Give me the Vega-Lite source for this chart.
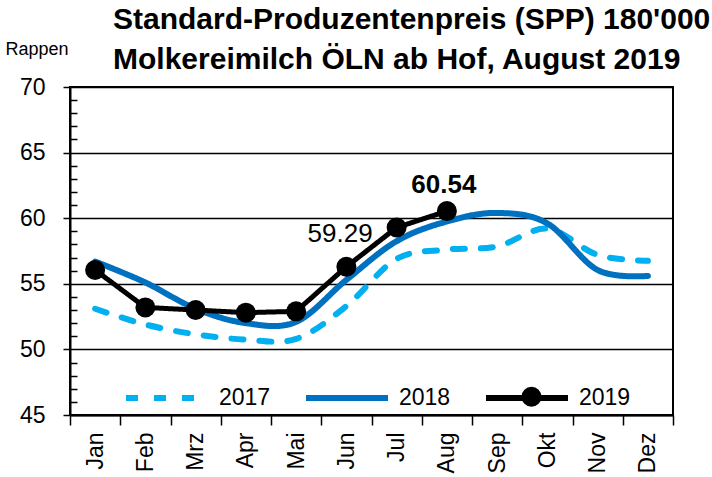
{
  "$schema": "https://vega.github.io/schema/vega-lite/v6.json",
  "width": 603,
  "height": 328,
  "autosize": {"type": "none"},
  "padding": {"left": 70, "top": 87, "right": 39, "bottom": 62},
  "background": "white",
  "config": {
    "view": {"stroke": "black", "strokeWidth": 2},
    "font": "Liberation Sans",
    "legend": {
      "orient": "none",
      "legendX": 53,
      "legendY": 267,
      "direction": "horizontal",
      "columns": 3,
      "symbolType": "stroke",
      "symbolSize": 6724,
      "symbolStrokeWidth": 6,
      "labelFont": "Liberation Sans",
      "labelFontSize": 23,
      "labelColor": "black",
      "labelOffset": 8,
      "columnPadding": 23,
      "padding": 0
    }
  },
  "title": {
    "text": ["Standard-Produzentenpreis (SPP) 180'000", "Molkereimilch ÖLN ab Hof, August 2019"],
    "anchor": "start",
    "frame": "group",
    "dx": 43,
    "dy": 47,
    "offset": 12,
    "font": "Liberation Sans",
    "fontSize": 30,
    "fontWeight": "bold",
    "color": "black",
    "lineHeight": 40
  },
  "datasets": {
    "prices": [
      {"month": "Jan", "year": "2017", "value": 53.1},
      {"month": "Feb", "year": "2017", "value": 51.9},
      {"month": "Mrz", "year": "2017", "value": 51.15},
      {"month": "Apr", "year": "2017", "value": 50.75},
      {"month": "Mai", "year": "2017", "value": 50.8},
      {"month": "Jun", "year": "2017", "value": 53.3},
      {"month": "Jul", "year": "2017", "value": 56.9},
      {"month": "Aug", "year": "2017", "value": 57.6},
      {"month": "Sep", "year": "2017", "value": 57.85},
      {"month": "Okt", "year": "2017", "value": 59.2},
      {"month": "Nov", "year": "2017", "value": 57.2},
      {"month": "Dez", "year": "2017", "value": 56.75},
      {"month": "Jan", "year": "2018", "value": 56.7},
      {"month": "Feb", "year": "2018", "value": 55.1},
      {"month": "Mrz", "year": "2018", "value": 53.1},
      {"month": "Apr", "year": "2018", "value": 52.0},
      {"month": "Mai", "year": "2018", "value": 52.1},
      {"month": "Jun", "year": "2018", "value": 55.3},
      {"month": "Jul", "year": "2018", "value": 58.25},
      {"month": "Aug", "year": "2018", "value": 59.75},
      {"month": "Sep", "year": "2018", "value": 60.4},
      {"month": "Okt", "year": "2018", "value": 59.6},
      {"month": "Nov", "year": "2018", "value": 56.05},
      {"month": "Dez", "year": "2018", "value": 55.6},
      {"month": "Jan", "year": "2019", "value": 56.05},
      {"month": "Feb", "year": "2019", "value": 53.2},
      {"month": "Mrz", "year": "2019", "value": 53.0},
      {"month": "Apr", "year": "2019", "value": 52.8},
      {"month": "Mai", "year": "2019", "value": 52.9},
      {"month": "Jun", "year": "2019", "value": 56.3},
      {"month": "Jul", "year": "2019", "value": 59.29},
      {"month": "Aug", "year": "2019", "value": 60.54}
    ]
  },
  "data": {"name": "prices"},
  "encoding": {
    "x": {
      "field": "month",
      "type": "ordinal",
      "bandPosition": 0.5,
      "sort": ["Jan", "Feb", "Mrz", "Apr", "Mai", "Jun", "Jul", "Aug", "Sep", "Okt", "Nov", "Dez"],
      "scale": {"type": "band", "domain": ["Jan", "Feb", "Mrz", "Apr", "Mai", "Jun", "Jul", "Aug", "Sep", "Okt", "Nov", "Dez"], "paddingInner": 0, "paddingOuter": 0},
      "axis": {
        "title": null,
        "tickBand": "extent",
        "tickSize": 10,
        "tickColor": "black",
        "tickWidth": 1.5,
        "domainColor": "black",
        "domainWidth": 2,
        "labelAngle": -90,
        "labelAlign": "right",
        "labelBaseline": "middle",
        "labelFont": "Liberation Sans",
        "labelFontSize": 23,
        "labelColor": "black",
        "labelPadding": 7,
        "grid": false
      }
    }
  },
  "layer": [
    {
      "transform": [{"filter": "datum.year !== '2019'"}],
      "mark": {"type": "line", "interpolate": "cardinal", "strokeWidth": 6, "strokeCap": "round"},
      "encoding": {
        "y": {
          "field": "value",
          "type": "quantitative",
          "scale": {"domain": [45, 70], "nice": false, "zero": false},
          "axis": {
            "orient": "left",
            "title": "Rappen",
            "titleAngle": 0,
            "titleAlign": "left",
            "titleBaseline": "middle",
            "titleX": -65,
            "titleY": -38,
            "titleFont": "Liberation Sans",
            "titleFontSize": 18,
            "titleFontWeight": "normal",
            "titleColor": "black",
            "values": [45, 50, 55, 60, 65, 70],
            "tickSize": 7,
            "tickColor": "black",
            "tickWidth": 1.5,
            "labelFont": "Liberation Sans",
            "labelFontSize": 23,
            "labelPadding": 18,
            "labelColor": "black",
            "domainColor": "black",
            "domainWidth": 2,
            "grid": true,
            "gridColor": "black",
            "gridWidth": 1.5
          }
        },
        "color": {
          "field": "year",
          "type": "nominal",
          "title": null,
          "scale": {"domain": ["2017", "2018", "2019"], "range": ["#00B0F0", "#0070C0", "#000000"]}
        },
        "strokeDash": {
          "field": "year",
          "type": "nominal",
          "title": null,
          "scale": {"domain": ["2017", "2018", "2019"], "range": [[12, 16], [1, 0], [1, 0]]}
        }
      }
    },
    {
      "transform": [{"filter": "datum.year === '2019'"}],
      "mark": {"type": "line", "strokeWidth": 5, "strokeCap": "round"},
      "encoding": {
        "y": {
          "field": "value",
          "type": "quantitative",
          "scale": {"domain": [45, 70], "nice": false, "zero": false},
          "axis": {
            "orient": "left",
            "title": null,
            "values": [46, 47, 48, 49, 51, 52, 53, 54, 56, 57, 58, 59, 61, 62, 63, 64, 66, 67, 68, 69],
            "labels": false,
            "domain": false,
            "grid": false,
            "tickSize": -7,
            "tickColor": "black",
            "tickWidth": 1.5
          }
        },
        "color": {"field": "year", "type": "nominal", "title": null},
        "strokeDash": {"field": "year", "type": "nominal", "title": null}
      }
    },
    {
      "transform": [{"filter": "datum.year === '2019'"}],
      "mark": {"type": "point", "size": 400, "filled": true, "color": "black", "opacity": 1},
      "encoding": {
        "y": {"field": "value", "type": "quantitative", "scale": {"domain": [45, 70], "nice": false, "zero": false}, "axis": null},
        "shape": {
          "datum": "2019",
          "scale": {"range": ["circle"]},
          "legend": {
            "orient": "none",
            "legendX": 450,
            "legendY": 298,
            "title": null,
            "symbolType": "circle",
            "symbolSize": 400,
            "symbolFillColor": "black",
            "symbolStrokeColor": "black",
            "symbolStrokeWidth": 0,
            "labelExpr": "''",
            "labelOffset": 0
          }
        }
      }
    },
    {
      "transform": [{"filter": "datum.year === '2019' && datum.month === 'Jul'"}],
      "mark": {"type": "text", "align": "right", "baseline": "middle", "dx": -24, "dy": 6, "font": "Liberation Sans", "fontSize": 26, "color": "black"},
      "encoding": {
        "y": {"field": "value", "type": "quantitative", "scale": {"domain": [45, 70], "nice": false, "zero": false}, "axis": null},
        "text": {"field": "value", "type": "quantitative", "format": ".2f"}
      }
    },
    {
      "transform": [{"filter": "datum.year === '2019' && datum.month === 'Aug'"}],
      "mark": {"type": "text", "align": "center", "baseline": "bottom", "dy": -13, "dx": -3, "font": "Liberation Sans", "fontSize": 26, "fontWeight": "bold", "color": "black"},
      "encoding": {
        "y": {"field": "value", "type": "quantitative", "scale": {"domain": [45, 70], "nice": false, "zero": false}, "axis": null},
        "text": {"field": "value", "type": "quantitative", "format": ".2f"}
      }
    }
  ],
  "resolve": {"axis": {"y": "independent"}}
}
